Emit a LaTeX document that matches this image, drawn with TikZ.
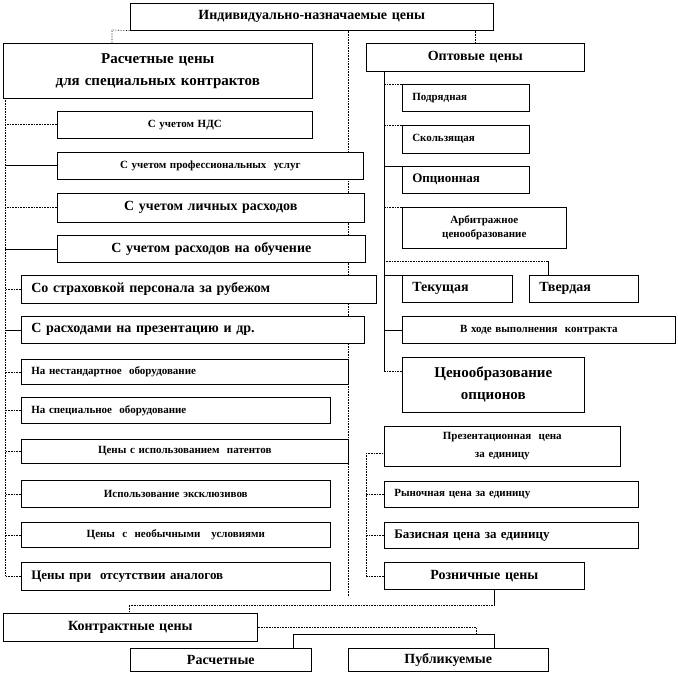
\documentclass[tikz,border=0pt]{standalone}
\usepackage{fontspec}
\setmainfont{Liberation Serif}
\usetikzlibrary{shadows,backgrounds}

\begin{document}
\begin{tikzpicture}[x=1pt,y=-1pt,
  box/.style={draw,fill=white,line width=0.6pt,anchor=north west,align=center,
    inner xsep=10pt,inner ysep=0pt,
    general shadow={shadow xshift=1pt,shadow yshift=-1pt,fill=black!60}},
  tbig/.style={font=\bfseries\fontsize{15}{22}\selectfont},
  tmid/.style={font=\bfseries\fontsize{14}{16}\selectfont},
  tmed/.style={font=\bfseries\fontsize{13}{15}\selectfont},
  tsmall/.style={font=\bfseries\fontsize{11}{14}\selectfont},
  dline/.style={densely dotted,line width=0.6pt},
  sline/.style={line width=0.6pt}]
\useasboundingbox (0,0) rectangle (678,674);

% top
\node[box,tmid,text width=343pt,minimum height=27pt] (indiv) at (130,3) {Индивидуально-назначаемые цены};

% left column
\node[box,tbig,text width=289pt,minimum height=55pt] (rasch) at (3,43) {Расчетные цены\\для специальных контрактов};
\node[box,tsmall,text width=235pt,minimum height=27pt] (nds) at (57,111) {С учетом НДС};
\node[box,tsmall,text width=286pt,minimum height=27pt] (prof) at (57,152) {С учетом профессиональных~ услуг};
\node[box,tmid,text width=287pt,minimum height=29pt] (lich) at (57,193) {С учетом личных расходов};
\node[box,tmid,text width=288pt,minimum height=27pt] (obuch) at (57,235) {С учетом расходов на обучение};
\node[box,tmid,align=left,text width=335pt,minimum height=28pt] (strah) at (21,275) {Со страховкой персонала за рубежом};
\node[box,tmid,align=left,text width=323pt,minimum height=27pt] (prez) at (21,316) {С расходами на презентацию и др.};
\node[box,tsmall,align=left,text width=307pt,minimum height=25pt] (nestd) at (21,359) {На нестандартное~ оборудование};
\node[box,tsmall,align=left,text width=289pt,minimum height=26pt] (spec) at (21,397) {На специальное~ оборудование};
\node[box,tsmall,text width=307pt,minimum height=24pt] (patent) at (21,439) {Цены с использованием~ патентов};
\node[box,tsmall,text width=289pt,minimum height=27pt] (ekskl) at (21,480) {Использование эксклюзивов};
\node[box,tsmall,text width=289pt,minimum height=25pt] (neob) at (21,522) {Цены~ с~ необычными~~ условиями};
\node[box,tmed,align=left,text width=289pt,minimum height=28pt] (analog) at (21,562) {Цены при~ отсутствии аналогов};

% right column
\node[box,tmid,text width=198pt,minimum height=28pt] (opt) at (366,43) {Оптовые цены};
\node[box,tsmall,align=left,text width=107pt,minimum height=27pt] (podr) at (402,84) {Подрядная};
\node[box,tsmall,align=left,text width=107pt,minimum height=28pt] (skolz) at (402,125) {Скользящая};
\node[box,tmed,align=left,text width=107pt,minimum height=27pt] (opcn) at (402,166) {Опционная};
\node[box,tsmall,text width=144pt,minimum height=41pt] (arb) at (402,207) {Арбитражное\\ценообразование};
\node[box,tmid,align=left,text width=90pt,minimum height=27pt] (tek) at (402,275) {Текущая};
\node[box,tmid,align=left,text width=89pt,minimum height=27pt] (tverd) at (529,275) {Твердая};
\node[box,tsmall,text width=253pt,minimum height=27pt] (vhode) at (402,316) {В ходе выполнения~ контракта};
\node[box,tbig,text width=162pt,minimum height=55pt] (opcpr) at (402,357) {Ценообразование\\опционов};
\node[box,tsmall,text width=216pt,minimum height=40pt] (prezc) at (384,426) {Презентационная~ цена\\[4pt]за единицу};
\node[box,tsmall,align=left,text width=234pt,minimum height=26pt] (rynoch) at (384,481) {Рыночная цена за единицу};
\node[box,tmed,align=left,text width=234pt,minimum height=26pt] (baz) at (384,522) {Базисная цена за единицу};
\node[box,tmid,text width=180pt,minimum height=27pt] (rozn) at (384,562) {Розничные цены};

% bottom
\node[box,tmid,text width=234pt,minimum height=28pt] (kontr) at (3,613) {Контрактные цены};
\node[box,tmid,text width=161pt,minimum height=23pt] (rschet) at (130,648) {Расчетные};
\node[box,tmid,text width=180pt,minimum height=23pt] (publ) at (348,648) {Публикуемые};

\begin{scope}[on background layer]
% from the top box
\coordinate (tl) at (112,30);
\coordinate (tr) at ([xshift=-18pt]indiv.south east);
\coordinate (divb) at (348,597);
\draw[dline] (indiv.south west) -- (tl) -- (tl |- rasch.north);
\draw[dline] (tr) -- (tr |- opt.north);
\draw[dline] (indiv.south -| divb) -- (divb);

% left spine
\coordinate (ls) at (5,98);
\draw[dline] (ls) -- (ls |- analog.west);
\foreach \n in {nds,lich,strah,nestd,spec,patent,ekskl,neob,analog}
  \draw[dline] (\n.west) -- (\n.west -| ls);
\foreach \n in {prof,obuch,prez}
  \draw[sline] (\n.west) -- (\n.west -| ls);

% right spine
\coordinate (rs) at (384,71);
\coordinate (opcj) at ([yshift=-14pt]opcpr.north west);
\draw[sline] (rs) -- (rs |- opcj);
\draw[dline] (opcj) -- (opcj -| rs);
\foreach \n in {podr,skolz,arb}
  \draw[dline] (\n.north west) -- (\n.north west -| rs);
\foreach \n in {opcn,tek}
  \draw[sline] (\n.north west) -- (\n.north west -| rs);
\draw[sline] (vhode.west) -- (vhode.west -| rs);
\coordinate (tvj) at (548,261);
\draw[dline] (tvj -| rs) -- (tvj);
\draw[sline] (tvj) -- (tvj |- tverd.north);

% lower right spine
\coordinate (ps) at (366,453);
\draw[dline] (ps) -- (ps |- rozn.west);
\draw[dline] (ps) -- (ps -| prezc.west);
\foreach \n in {rynoch,baz,rozn}
  \draw[dline] (\n.west) -- (\n.west -| ps);

% to the contract prices
\coordinate (rz) at ([xshift=10pt]rozn.south);
\coordinate (kj) at (129,605);
\draw[sline] (rz) -- (rz |- kj);
\draw[dline] (rz |- kj) -- (kj) -- (kj |- kontr.north);
\coordinate (kb) at (476,634);
\coordinate (kl) at (293,634);
\coordinate (kr) at (494,634);
\draw[dline] (kontr.east) -| (kb);
\draw[sline] (kl |- rschet.north) -- (kl) -- (kr) -- (kr |- publ.north);
\end{scope}
\end{tikzpicture}
\end{document}
